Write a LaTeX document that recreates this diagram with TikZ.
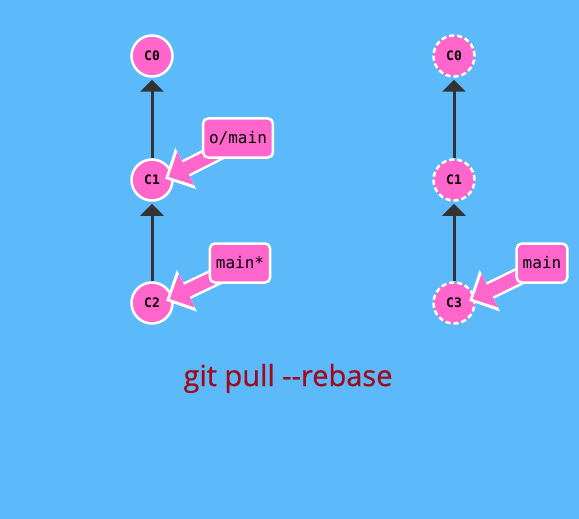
\documentclass[tikz,border=0pt]{standalone}
\usepackage{fontspec}
\setmainfont{Open Sans}
\setmonofont{DejaVu Sans Mono}
\newfontfamily\titlefont[FakeBold=0.6]{Open Sans}
\usetikzlibrary{arrows.meta}
\definecolor{skyblue}{HTML}{5CBAFA}
\definecolor{commitpink}{HTML}{FF66CC}
\definecolor{edgegray}{HTML}{333333}
\definecolor{titlered}{HTML}{A00A1C}
\begin{document}
\begin{tikzpicture}[x=1pt,y=-1pt]
\tikzset{commit/.style={circle, draw=white, line width=2.5pt, fill=commitpink, minimum size=41pt, inner sep=0pt, font=\ttfamily\bfseries\fontsize{13}{14}\selectfont},
  ghost/.style={commit, dashed, dash pattern=on 5pt off 3pt},
  edge/.style={draw=edgegray, line width=3pt, -{Triangle[width=23pt,length=12pt]}, shorten >=2pt},
  ptr/.style={draw=commitpink, line width=13pt, -{Triangle[width=36pt,length=19pt]},
    preaction={draw=white, line width=18pt, -{Triangle[width=45pt,length=23pt]}, shorten >=-4pt}},
  branch/.style={draw=white, line width=2.5pt, fill=commitpink, rounded corners=5pt, minimum height=39pt, inner xsep=6pt, font=\ttfamily\fontsize{16}{18}\selectfont}}
\fill[skyblue] (0,0) rectangle (579,519);
\node (c0) at (152,56) [commit] {C0};
\node (c1) at (152,180) [commit] {C1};
\node (c2) at (152,303) [commit] {C2};
\draw[edge] (c1) -- (c0);
\draw[edge] (c2) -- (c1);
\node (r0) at (454,56) [ghost] {C0};
\node (r1) at (454,180) [ghost] {C1};
\node (r3) at (454,303) [ghost] {C3};
\draw[edge] (r1) -- (r0);
\draw[edge] (r3) -- (r1);
\coordinate (omtail) at (226,148);
\coordinate (mstail) at (226,272);
\coordinate (mtail) at (528,272);
\draw[ptr] (omtail) -- ([xshift=-5pt,yshift=3pt]c1.east);
\draw[ptr] (mstail) -- ([xshift=-4pt,yshift=4pt]c2.east);
\draw[ptr] (mtail) -- ([xshift=-3pt,yshift=4pt]r3.east);
\node (om) at (238,138) [branch] {o/main};
\node (ms) at (240,263) [branch] {main*};
\node (m) at (542,263) [branch] {main};
\node (title) at (288,386) [anchor=base, text=titlered, font=\titlefont\fontsize{29}{33}\selectfont] {git pull -{}-rebase};
\end{tikzpicture}
\end{document}
